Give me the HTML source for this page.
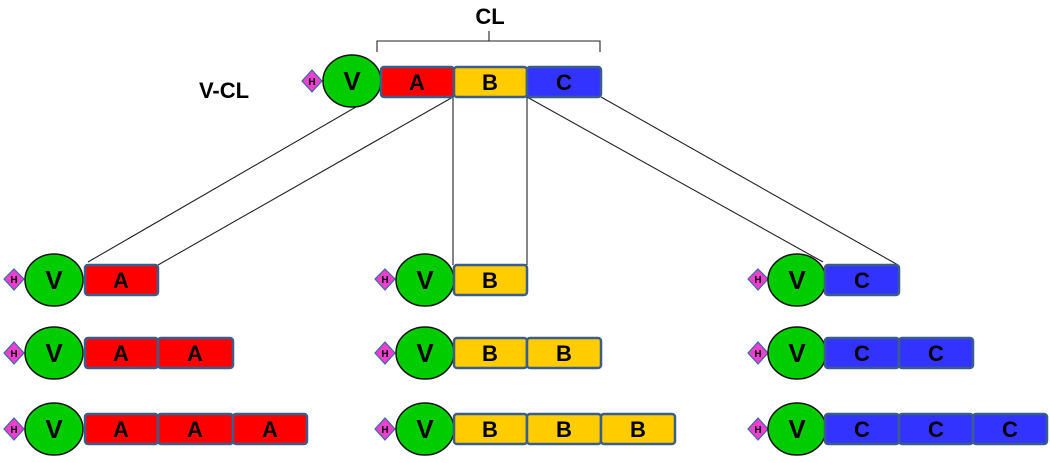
<!DOCTYPE html>
<html><head><meta charset="utf-8"><style>
html,body{margin:0;padding:0;background:#fff;}
svg{display:block;}
text{font-family:"Liberation Sans",sans-serif;font-weight:bold;}
</style></head><body>
<svg width="1050" height="463" viewBox="0 0 1050 463" xmlns="http://www.w3.org/2000/svg">
<defs>
<style>
.d{fill:#ee3fd0;stroke:#3d6aa0;stroke-width:1.2}
.v{fill:#00cc00;stroke:#111;stroke-width:1.5}
.bx{stroke:#3a5e8c;stroke-width:2.5}
.a{fill:#ff0000}.b{fill:#ffcc00}.c{fill:#3333ff}
.L{font-size:22px;text-anchor:middle}
.V{font-size:26px;text-anchor:middle}
.h{font-size:10px;text-anchor:middle}
.ln{stroke:#222;stroke-width:1.1;fill:none}
</style>
</defs>
<!-- connector lines -->
<line class="ln" x1="368" y1="100" x2="88" y2="262"/>
<line class="ln" x1="453" y1="97" x2="158" y2="265"/>
<line class="ln" x1="453" y1="97" x2="453" y2="265"/>
<line class="ln" x1="527" y1="97" x2="527" y2="265"/>
<line class="ln" x1="527" y1="97" x2="823" y2="262"/>
<line class="ln" x1="601" y1="97" x2="898" y2="265"/>
<!-- brace -->
<path class="ln" stroke-width="1.6" d="M377 52 V41 H600 V52 M489 41 V31"/>
<text x="490" y="24" style="font-size:22px;text-anchor:middle">CL</text>
<text x="224" y="98" style="font-size:22px;text-anchor:middle">V-CL</text>

<!-- top construct -->
<polygon class="d" points="312,70 322,81 312,92 302,81"/><text class="h" x="312" y="85">H</text>
<ellipse class="v" cx="352" cy="81" rx="29" ry="26"/><text class="V" x="352" y="90">V</text>
<rect class="bx a" x="381" y="67" width="73" height="30" rx="3"/><text class="L" x="417" y="90">A</text>
<rect class="bx b" x="454" y="67" width="73" height="30" rx="3"/><text class="L" x="490" y="90">B</text>
<rect class="bx c" x="527" y="67" width="74" height="30" rx="3"/><text class="L" x="564" y="90">C</text>

<!-- column 1 -->
<g>
<polygon class="d" points="14,269 24,279 14,290 4,279"/><text class="h" x="14" y="283">H</text>
<ellipse class="v" cx="54" cy="280" rx="29" ry="26"/><text class="V" x="54" y="289">V</text>
<rect class="bx a" x="85" y="265" width="73" height="30" rx="3"/><text class="L" x="121" y="288">A</text>

<polygon class="d" points="14,342 24,353 14,364 4,353"/><text class="h" x="14" y="357">H</text>
<ellipse class="v" cx="54" cy="353" rx="29" ry="26"/><text class="V" x="54" y="362">V</text>
<rect class="bx a" x="85" y="338" width="73" height="30" rx="3"/><text class="L" x="121" y="361">A</text>
<rect class="bx a" x="158" y="338" width="75" height="30" rx="3"/><text class="L" x="195" y="361">A</text>

<polygon class="d" points="14,418 24,429 14,440 4,429"/><text class="h" x="14" y="433">H</text>
<ellipse class="v" cx="54" cy="429" rx="29" ry="26"/><text class="V" x="54" y="438">V</text>
<rect class="bx a" x="85" y="414" width="73" height="30" rx="3"/><text class="L" x="121" y="437">A</text>
<rect class="bx a" x="158" y="414" width="75" height="30" rx="3"/><text class="L" x="195" y="437">A</text>
<rect class="bx a" x="233" y="414" width="74" height="30" rx="3"/><text class="L" x="270" y="437">A</text>
</g>

<!-- column 2 -->
<g>
<polygon class="d" points="385,269 395,279 385,290 375,279"/><text class="h" x="385" y="283">H</text>
<ellipse class="v" cx="425" cy="280" rx="29" ry="26"/><text class="V" x="425" y="289">V</text>
<rect class="bx b" x="454" y="265" width="73" height="30" rx="3"/><text class="L" x="490" y="288">B</text>

<polygon class="d" points="385,342 395,353 385,364 375,353"/><text class="h" x="385" y="357">H</text>
<ellipse class="v" cx="425" cy="353" rx="29" ry="26"/><text class="V" x="425" y="362">V</text>
<rect class="bx b" x="454" y="338" width="73" height="30" rx="3"/><text class="L" x="490" y="361">B</text>
<rect class="bx b" x="527" y="338" width="74" height="30" rx="3"/><text class="L" x="564" y="361">B</text>

<polygon class="d" points="385,418 395,429 385,440 375,429"/><text class="h" x="385" y="433">H</text>
<ellipse class="v" cx="425" cy="429" rx="29" ry="26"/><text class="V" x="425" y="438">V</text>
<rect class="bx b" x="454" y="414" width="73" height="30" rx="3"/><text class="L" x="490" y="437">B</text>
<rect class="bx b" x="527" y="414" width="74" height="30" rx="3"/><text class="L" x="564" y="437">B</text>
<rect class="bx b" x="601" y="414" width="74" height="30" rx="3"/><text class="L" x="638" y="437">B</text>
</g>

<!-- column 3 -->
<g>
<polygon class="d" points="758,269 768,279 758,290 748,279"/><text class="h" x="758" y="283">H</text>
<ellipse class="v" cx="797" cy="280" rx="29" ry="26"/><text class="V" x="797" y="289">V</text>
<rect class="bx c" x="825" y="265" width="74" height="30" rx="3"/><text class="L" x="862" y="288">C</text>

<polygon class="d" points="758,342 768,353 758,364 748,353"/><text class="h" x="758" y="357">H</text>
<ellipse class="v" cx="797" cy="353" rx="29" ry="26"/><text class="V" x="797" y="362">V</text>
<rect class="bx c" x="825" y="338" width="74" height="30" rx="3"/><text class="L" x="862" y="361">C</text>
<rect class="bx c" x="899" y="338" width="74" height="30" rx="3"/><text class="L" x="936" y="361">C</text>

<polygon class="d" points="758,418 768,429 758,440 748,429"/><text class="h" x="758" y="433">H</text>
<ellipse class="v" cx="797" cy="429" rx="29" ry="26"/><text class="V" x="797" y="438">V</text>
<rect class="bx c" x="825" y="414" width="74" height="30" rx="3"/><text class="L" x="862" y="437">C</text>
<rect class="bx c" x="899" y="414" width="74" height="30" rx="3"/><text class="L" x="936" y="437">C</text>
<rect class="bx c" x="973" y="414" width="74" height="30" rx="3"/><text class="L" x="1010" y="437">C</text>
</g>
</svg>
</body></html>
